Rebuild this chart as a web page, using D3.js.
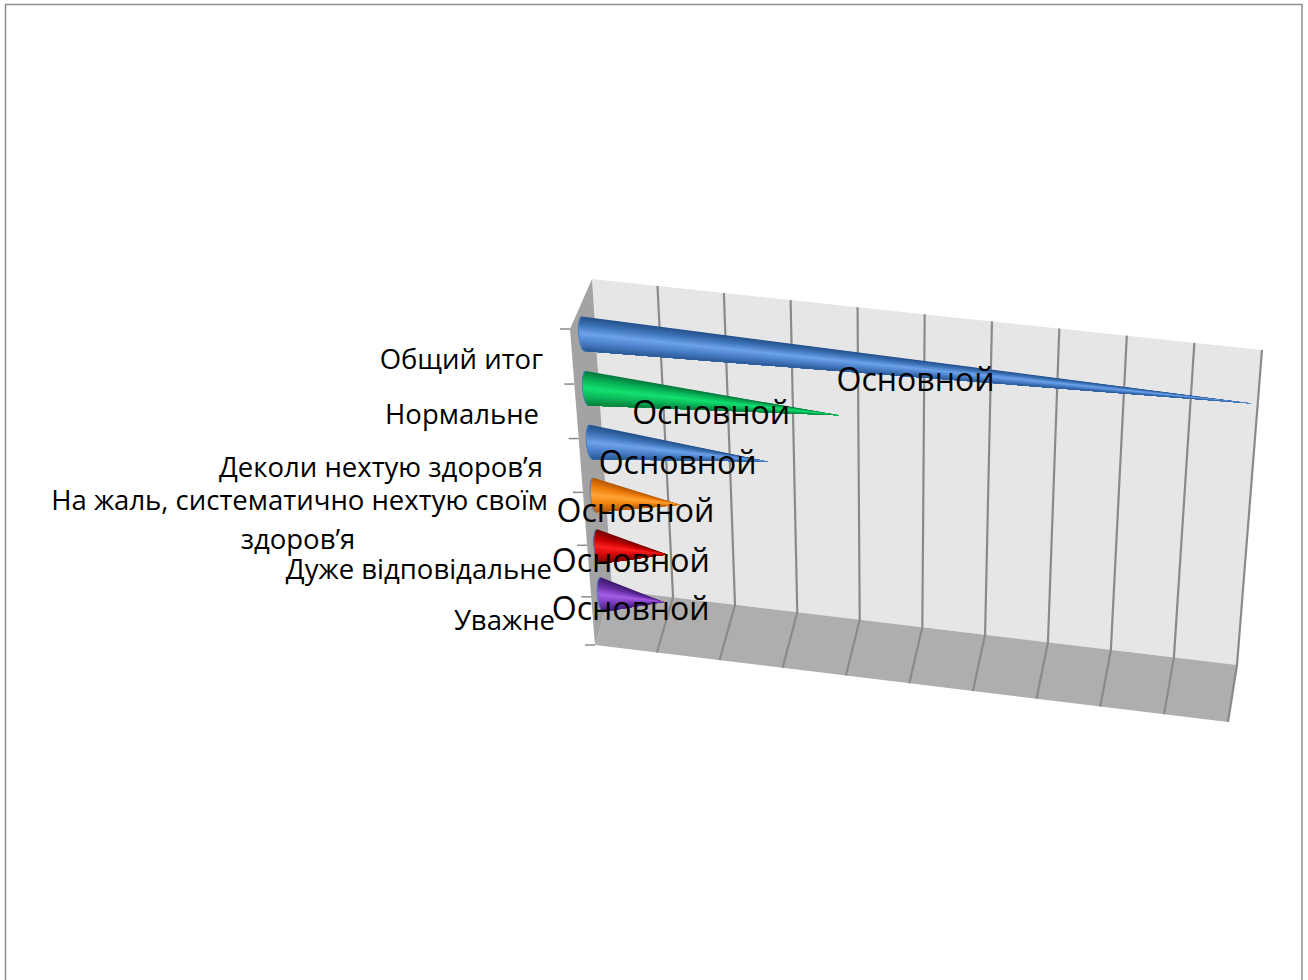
<!DOCTYPE html>
<html><head><meta charset="utf-8">
<script src="https://cdn.jsdelivr.net/npm/d3@7"></script>
<style>html,body{margin:0;background:#fff}svg{display:block}text{font-family:"Open Sans",sans-serif;fill:#000}</style>
</head><body><div id="c"></div>
<script>
// Data (top to bottom in the chart)
const categories = ["Общий итог","Нормальне","Деколи нехтую здоров’я","На жаль, систематично нехтую своїм здоров’я","Дуже відповідальне","Уважне"];
const seriesName = "Основной";
const values = [100,38.5,27.5,13.5,11,10];
const axisTicks = [0,10,20,30,40,50,60,70,80,90,100];
const palettes = [
 ["#23508a","#3f75b8","#6ea3ea","#4a80c8","#2c5a98"],
 ["#06763c","#09b458","#14e070","#0cb85a","#07803f"],
 ["#23508a","#3f75b8","#6ea3ea","#4a80c8","#2c5a98"],
 ["#b45705","#ee7d0c","#ffa436","#f08410","#b85a06"],
 ["#750000","#c00000","#ff2020","#d00808","#800000"],
 ["#3c1b6e","#6a30a8","#a45ee6","#7a3cbc","#43207a"]
];
// Layout
const W=1308,H=980;
const corner={
 fbl:[595,645],fbr:[1228,722],bbl:[612,590],bbr:[1237,665],
 btl:[592,279],btr:[1262,350],ftl:[570,329],ftr:[1246,396]};
const labelLayout=[
 {x:543,y:369},{x:539,y:424},{x:543,y:477},
 {x:548,y:510,x2:298,y2:549},{x:552,y:579},{x:555,y:630}];

const svg=d3.select("#c").append("svg").attr("width",W).attr("height",H);
svg.append("path").attr("d",`M5.5,${H+2}V4.5H1302V${H+2}`).attr("fill","none").attr("stroke","#8e8e8e").attr("stroke-width",1.5);

const vScale=d3.scalePow().exponent(1.01).domain([0,100]).range([0,1]);
const hPow=d3.scalePow().exponent(1.05).domain([0,1]).range([0,1]);
const catT=d3.scalePoint().domain(categories.slice().reverse()).range([0,1]);
const hCat=t=>0.073+0.832*hPow(t);
const lerp=(a,b,t)=>a+(b-a)*t;
const lerp2=(a,b,t)=>[lerp(a[0],b[0],t),lerp(a[1],b[1],t)];
function P(v,d,h){
 const u=vScale(v);
 const left=lerp2(lerp2(corner.fbl,corner.ftl,h),lerp2(corner.bbl,corner.btl,h),d);
 const right=lerp2(lerp2(corner.fbr,corner.ftr,h),lerp2(corner.bbr,corner.btr,h),d);
 return lerp2(left,right,u);
}
const line=d3.line();
const poly=(pts,fill)=>svg.append("path").attr("d",line(pts)+"Z").attr("fill",fill);
poly([P(0,1,1),P(100,1,1),P(100,1,0),P(0,1,0)],"#e6e6e6");
poly([P(0,0,1),P(0,1,1),P(0,1,0),P(0,0,0)],"#a3a3a3");
poly([P(0,1,0),P(100,1,0),P(100,0,0),P(0,0,0)],"#aeaeae");
axisTicks.forEach((v,i)=>{
 if(i===0) return;
 svg.append("path").attr("d",line([P(v,1,1),P(v,1,0),P(v,0,0)])).attr("fill","none").attr("stroke","#8a8a8a").attr("stroke-width",2.2);
});
d3.range(7).forEach(i=>{
 const p=P(0,0,hPow(i/6));
 svg.append("line").attr("x1",p[0]-10).attr("x2",p[0]).attr("y1",p[1]).attr("y2",p[1]).attr("stroke","#8a8a8a").attr("stroke-width",1.5);
});
const mids=[];
categories.forEach((cat,i)=>{
 const h=hCat(catT(cat));
 const c=P(0,0.5,h), tip=P(values[i],0.5,h);
 const top=P(0,0.5,h+0.055), bot=P(0,0.5,h-0.055);
 const axis=[(top[0]-bot[0])/2,(top[1]-bot[1])/2];
 const ax=[tip[0]-c[0],tip[1]-c[1]],L=Math.hypot(ax[0],ax[1]);
 const rx=4.5, off=[-ax[0]/L*rx,-ax[1]/L*rx];
 const color=d3.scaleLinear().domain(d3.range(5).map(k=>-1+k/2)).range(palettes[i]).interpolate(d3.interpolateRgb);
 const N=40;
 const base=u=>{const s=Math.sqrt(Math.max(0,1-u*u));return [c[0]-axis[0]*u+off[0]*s,c[1]-axis[1]*u+off[1]*s];};
 d3.range(N).forEach(k=>{
  const u0=-1+2*k/N;
  const pts=d3.range(k,N+1).map(j=>base(-1+2*j/N));
  svg.append("path").attr("d",line([...pts,tip])+"Z").attr("fill",color(u0+1/N));
 });
 svg.append("path").attr("d",line(d3.range(N+1).map(k=>base(-1+2*k/N)))).attr("fill","none").attr("stroke","#4f81bd").attr("stroke-width",1.2).attr("opacity",0.85);
 mids.push([(c[0]+tip[0])/2,(c[1]+tip[1])/2]);
});
categories.forEach((cat,i)=>{
 svg.append("text").attr("x",mids[i][0]-2).attr("y",mids[i][1]+22).attr("text-anchor","middle").attr("font-size",32).text(seriesName);
});
categories.forEach((cat,i)=>{
 const l=labelLayout[i];
 if(l.x2){
  const words=cat.split(" "), last=words.pop();
  svg.append("text").attr("x",l.x).attr("y",l.y).attr("text-anchor","end").attr("font-size",27.5).text(words.join(" "));
  svg.append("text").attr("x",l.x2).attr("y",l.y2).attr("text-anchor","middle").attr("font-size",27.5).text(last);
 } else {
  svg.append("text").attr("x",l.x).attr("y",l.y).attr("text-anchor","end").attr("font-size",27.5).text(cat);
 }
});
</script></body></html>
